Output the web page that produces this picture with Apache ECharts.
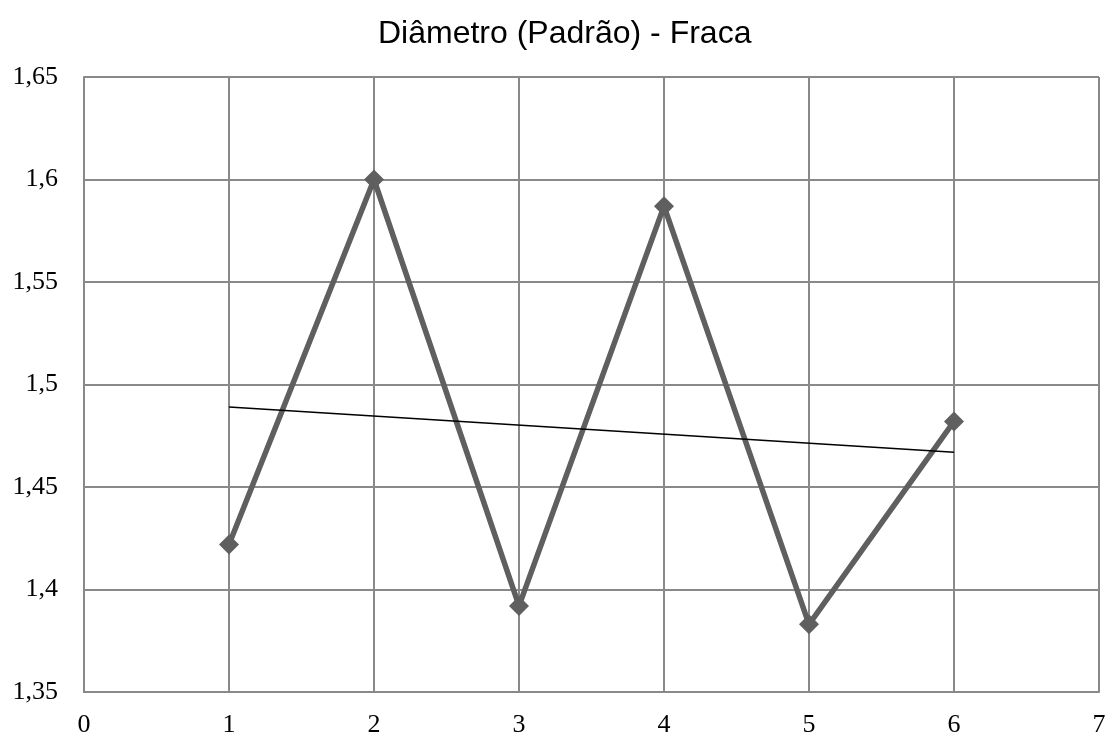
<!DOCTYPE html>
<html><head><meta charset="utf-8">
<script src="https://cdn.jsdelivr.net/npm/echarts@6/dist/echarts.min.js"></script>
<style>html,body{margin:0;padding:0;background:#fff}#c{width:1109px;height:736px}</style>
</head><body><div id="c"></div>
<script>
const xValues = [1, 2, 3, 4, 5, 6];
const diameterValues = [1.422, 1.600, 1.392, 1.587, 1.383, 1.482];
const trendX = [1, 6];
const trendValues = [1.489, 1.467];
const titleText = 'Diâmetro (Padrão) - Fraca';

const chart = echarts.init(document.getElementById('c'));
const fmt = v => String(Math.round(v * 100) / 100).replace('.', ',');
chart.setOption({
  animation: false,
  backgroundColor: '#fff',
  title: { text: titleText, left: 378, top: 18, padding: 0,
    textStyle: { fontFamily: 'Liberation Sans', fontSize: 32, fontWeight: 'normal', color: '#000' } },
  grid: { left: 84, right: 10, top: 77, bottom: 44, containLabel: false, outerBoundsMode: 'none' },
  xAxis: { type: 'value', min: 0, max: 7, interval: 1,
    axisLine: { show: true, lineStyle: { color: '#898989', width: 2 } },
    axisTick: { show: false },
    splitLine: { show: true, lineStyle: { color: '#898989', width: 2 } },
    axisLabel: { margin: 20, fontFamily: 'Liberation Serif', fontSize: 26, color: '#000', formatter: fmt } },
  yAxis: { type: 'value', min: 1.35, max: 1.65, interval: 0.05,
    axisLine: { show: true, lineStyle: { color: '#898989', width: 2 } },
    axisTick: { show: false },
    splitLine: { show: true, lineStyle: { color: '#898989', width: 2 } },
    axisLabel: { margin: 26, fontFamily: 'Liberation Serif', fontSize: 26, color: '#000', formatter: fmt } },
  series: [
    { type: 'line', data: xValues.map((x, i) => [x, diameterValues[i]]),
      lineStyle: { color: '#5f5f5f', width: 5.5 },
      itemStyle: { color: '#5f5f5f' },
      symbol: 'diamond', symbolSize: 20, showAllSymbol: true, z: 3 },
    { type: 'line', data: trendX.map((x, i) => [x, trendValues[i]]),
      lineStyle: { color: '#000', width: 1.5 }, symbol: 'none', z: 4 }
  ]
});
</script></body></html>
